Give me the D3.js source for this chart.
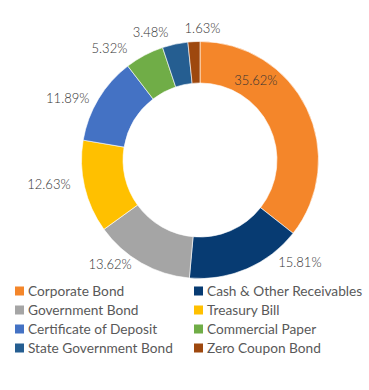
<!DOCTYPE html>
<html><head><meta charset="utf-8">
<script src="https://cdn.jsdelivr.net/npm/d3@7"></script>
<style>body{margin:0;background:#fff;}svg{display:block;}</style>
</head><body>
<svg id="c" width="369" height="390"></svg>
<script>
const categories = ["Corporate Bond","Cash & Other Receivables","Government Bond","Treasury Bill","Certificate of Deposit","Commercial Paper","State Government Bond","Zero Coupon Bond"];
const values = [35.62, 15.81, 13.62, 12.63, 11.89, 5.32, 3.48, 1.63];
const colors = ["#F4862A","#073B72","#A5A5A5","#FFC000","#4472C4","#70AD47","#255E91","#9E480E"];
// label placement: angle shift (deg) from slice middle, and radius
const labelShift = [-29, -21, 11, 4, -6, -11, -9, 4];
const labelRadius = [97, 143, 138, 153, 146, 144, 137, 132];

const svg = d3.select("#c");
const cx = 200, cy = 160, rOut = 118.5, rIn = 77;
const g = svg.append("g").attr("transform", `translate(${cx},${cy})`);
const pie = d3.pie().sort(null).value(d => d);
const arcs = pie(values);
const arc = d3.arc().innerRadius(rIn).outerRadius(rOut);
g.selectAll("path").data(arcs).join("path")
  .attr("d", arc).attr("fill", (d,i) => colors[i])
  .attr("stroke", "#fff").attr("stroke-width", 0.6);

g.selectAll("text.lbl").data(arcs).join("text")
  .attr("class","lbl")
  .attr("transform", (d,i) => {
    const a = (d.startAngle + d.endAngle)/2 + labelShift[i]*Math.PI/180;
    const r = labelRadius[i];
    return `translate(${r*Math.sin(a)},${-r*Math.cos(a)})`;
  })
  .attr("text-anchor","middle").attr("dy","0.35em")
  .attr("font-family","Lato, sans-serif").attr("font-size", 13).attr("font-weight", 300)
  .attr("fill","#333333")
  .text(d => d.data.toFixed(2) + "%");

const leg = svg.append("g");
const colX = [15, 194], rowY = 291, rowH = 19;
categories.forEach((c, i) => {
  const x = colX[i % 2], y = rowY + Math.floor(i/2)*rowH;
  leg.append("rect").attr("x", x).attr("y", y-4.5).attr("width", 9).attr("height", 9).attr("fill", colors[i]);
  leg.append("text").attr("x", x+13).attr("y", y).attr("dy","0.35em")
    .attr("font-family","Lato, sans-serif").attr("font-size", 13.7)
    .attr("fill","#595959").text(c);
});
</script>
</body></html>
